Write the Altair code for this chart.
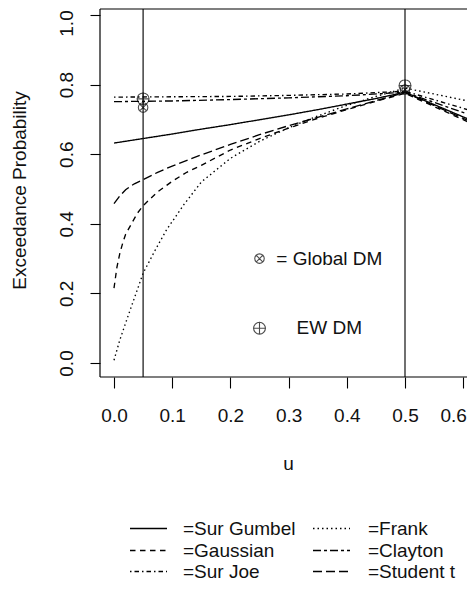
import altair as alt
import pandas as pd

FONT = "Liberation Sans"
TXT = "#111111"

# ---------------- data ----------------
series_names = ["Sur Gumbel", "Frank", "Gaussian", "Clayton", "Sur Joe", "Student t"]

u_sur_gumbel = [0.0, 0.05, 0.1, 0.15, 0.2, 0.25, 0.3, 0.35, 0.4, 0.45, 0.5, 0.62]
v_sur_gumbel = [0.632, 0.645, 0.658, 0.672, 0.685, 0.699, 0.713, 0.728, 0.744, 0.760, 0.778, 0.693]

u_frank = [0.0, 0.01, 0.02, 0.03, 0.04, 0.05, 0.07, 0.09, 0.12, 0.15, 0.2, 0.25, 0.3, 0.35, 0.4, 0.45, 0.5, 0.62]
v_frank = [0.008, 0.066, 0.115, 0.163, 0.21, 0.258, 0.322, 0.382, 0.455, 0.52, 0.588, 0.637, 0.676, 0.71, 0.74, 0.766, 0.79, 0.749]

u_gaussian = [0.0, 0.005, 0.01, 0.015, 0.02, 0.03, 0.04, 0.05, 0.075, 0.1, 0.125, 0.15, 0.2, 0.25, 0.3, 0.35, 0.4, 0.45, 0.5, 0.62]
v_gaussian = [0.215, 0.275, 0.315, 0.345, 0.37, 0.40, 0.43, 0.452, 0.492, 0.522, 0.548, 0.568, 0.612, 0.645, 0.675, 0.703, 0.728, 0.752, 0.775, 0.684]

u_clayton = [0.0, 0.1, 0.2, 0.3, 0.4, 0.5, 0.62]
v_clayton = [0.751, 0.753, 0.757, 0.762, 0.768, 0.778, 0.708]

u_sur_joe = [0.0, 0.1, 0.2, 0.3, 0.4, 0.5, 0.62]
v_sur_joe = [0.764, 0.765, 0.766, 0.769, 0.773, 0.781, 0.722]

u_student = [0.0, 0.01, 0.02, 0.035, 0.05, 0.075, 0.1, 0.15, 0.2, 0.25, 0.3, 0.35, 0.4, 0.45, 0.5, 0.62]
v_student = [0.458, 0.48, 0.498, 0.515, 0.527, 0.548, 0.566, 0.598, 0.628, 0.656, 0.682, 0.706, 0.73, 0.754, 0.777, 0.688]

vline_u = [0.05, 0.5]

global_dm_u = [0.05, 0.5]
global_dm_v = [0.734, 0.786]
ew_dm_u = [0.05, 0.5]
ew_dm_v = [0.759, 0.797]

key_u = 0.25
key_text_u = 0.37
key_global_v = 0.3
key_ew_v = 0.1
key_labels = ["= Global DM", "EW DM"]

x_ticks = [0.0, 0.1, 0.2, 0.3, 0.4, 0.5, 0.6]
y_ticks = [0.0, 0.2, 0.4, 0.6, 0.8, 1.0]

legend_cols = [["Sur Gumbel", "Gaussian", "Sur Joe"], ["Frank", "Clayton", "Student t"]]

# ---------------- styles ----------------
dash = {
    "Sur Gumbel": [1, 0],
    "Frank": [1.5, 3],
    "Gaussian": [5.5, 4.5],
    "Clayton": [8, 3, 3, 3],
    "Sur Joe": [1.5, 3, 4.5, 3],
    "Student t": [9, 4],
}

PX_PER_U = 582.0
W, H = 367, 368
x_dom = [-14.0 / PX_PER_U, (W - 14.0) / PX_PER_U]
y_dom = [-0.04023, 1.01724]

frames = []
for name, uu, vv in [
    ("Sur Gumbel", u_sur_gumbel, v_sur_gumbel),
    ("Frank", u_frank, v_frank),
    ("Gaussian", u_gaussian, v_gaussian),
    ("Clayton", u_clayton, v_clayton),
    ("Sur Joe", u_sur_joe, v_sur_joe),
    ("Student t", u_student, v_student),
]:
    frames.append(pd.DataFrame({"u": uu, "v": vv, "series": name}))
curves = pd.concat(frames, ignore_index=True)

x_axis = alt.Axis(
    values=x_ticks, format=".1f", domain=False, grid=False,
    tickSize=11, tickColor="black", tickWidth=1.1,
    labelFont=FONT, labelFontSize=19, labelColor=TXT,
    labelBaseline="alphabetic", labelPadding=33, labelFlush=False, labelOverlap=False,
    labelOffset={"condition": {"test": "datum.value >= 0.59", "value": -10}, "value": 0},
    title="u", titleFont=FONT, titleFontSize=19, titleFontWeight="normal", titleColor=TXT,
    titleBaseline="alphabetic", titleX=188, titleY=92, titleAlign="center",
)
y_axis = alt.Axis(
    values=y_ticks, format=".1f", domain=False, grid=False,
    tickSize=10, tickColor="black", tickWidth=1.1,
    labelFont=FONT, labelFontSize=19, labelColor=TXT,
    labelAngle=270, labelAlign="center", labelBaseline="alphabetic", labelPadding=18,
    labelFlush=False, labelOverlap=False,
    labelOffset={"condition": {"test": "datum.value >= 0.99", "value": 8}, "value": 0},
    title="Exceedance Probability", titleFont=FONT, titleFontSize=19, titleFontWeight="normal",
    titleColor=TXT, titleAngle=270, titleBaseline="alphabetic", titleAlign="center",
    titleX=-75, titleY=181,
)

xs = alt.Scale(domain=x_dom, nice=False, zero=False)
ys = alt.Scale(domain=y_dom, nice=False, zero=False)
X = alt.X("u:Q", scale=xs, axis=x_axis)
Y = alt.Y("v:Q", scale=ys, axis=y_axis)

lines = alt.Chart(curves).mark_line(color="black", strokeWidth=1.35, clip=True).encode(
    x=X, y=Y,
    strokeDash=alt.StrokeDash("series:N", scale=alt.Scale(domain=series_names,
                              range=[dash[n] for n in series_names]), legend=None),
)

vlines = alt.Chart(pd.DataFrame({"u": vline_u})).mark_rule(color="#111111", strokeWidth=1.2).encode(x=X)

circ_x = ("M-1,0A1,1,0,1,0,1,0A1,1,0,1,0,-1,0Z"
          "M-0.72,-0.72L0.72,0.72M-0.72,0.72L0.72,-0.72")
circ_plus = "M-1,0A1,1,0,1,0,1,0A1,1,0,1,0,-1,0ZM-1.1,0L1.1,0M0,-1.1L0,1.1"

g_df = pd.DataFrame({"u": global_dm_u + [key_u], "v": global_dm_v + [key_global_v]})
e_df = pd.DataFrame({"u": ew_dm_u + [key_u], "v": ew_dm_v + [key_ew_v]})

gpts = alt.Chart(g_df).mark_point(shape=circ_x, size=90, filled=False, color="black",
                                  strokeWidth=1.1).encode(x=X, y=Y)
epts = alt.Chart(e_df).mark_point(shape=circ_plus, size=140, filled=False, color="black",
                                  strokeWidth=1.1).encode(x=X, y=Y)

key_df = pd.DataFrame({"u": [key_text_u, key_text_u], "v": [key_global_v, key_ew_v],
                       "label": key_labels})
key_txt = alt.Chart(key_df).mark_text(align="center", baseline="middle", fontSize=19,
                                      font=FONT, color=TXT).encode(x=X, y=Y, text="label:N")

one = pd.DataFrame({"k": [0]})
box = [
    alt.Chart(one).mark_rule(color="black", strokeWidth=1.2).encode(
        x=alt.value(0), y=alt.value(0), y2=alt.value(H)),
    alt.Chart(one).mark_rule(color="black", strokeWidth=1.2).encode(
        x=alt.value(0), x2=alt.value(W + 5), y=alt.value(0)),
    alt.Chart(one).mark_rule(color="black", strokeWidth=1.2).encode(
        x=alt.value(0), x2=alt.value(W + 5), y=alt.value(H)),
]

# custom legend under the plot (pixel layout relative to the plot area)
leg_layers = []
col_line_x = [30, 213]
col_text_x = [83, 268]
row_y = [519.5, 541.5, 562.5]
for ci, col in enumerate(legend_cols):
    for ri, name in enumerate(col):
        leg_layers.append(
            alt.Chart(one).mark_rule(color="black", strokeWidth=1.3, strokeDash=dash[name]).encode(
                x=alt.value(col_line_x[ci]), x2=alt.value(col_line_x[ci] + 37),
                y=alt.value(row_y[ri]))
        )
        leg_layers.append(
            alt.Chart(one).mark_text(text="=" + name, align="left", baseline="alphabetic",
                                     fontSize=19, font=FONT, color=TXT).encode(
                x=alt.value(col_text_x[ci]), y=alt.value(row_y[ri] + 6.8))
        )

chart = alt.layer(lines, vlines, gpts, epts, key_txt, *box, *leg_layers).properties(
    width=W, height=H,
    padding={"left": 92, "top": 1, "right": 0, "bottom": 206},
    autosize=alt.AutoSizeParams(type="none"),
    background="white",
).configure_view(stroke=None)

chart.save("out.html", embed_options={"renderer": "svg", "actions": False})
